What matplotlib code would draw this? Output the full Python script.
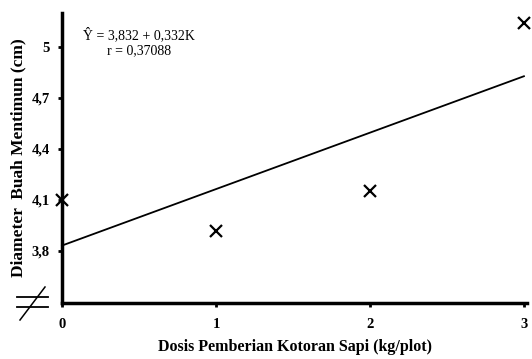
import matplotlib
matplotlib.use("Agg")
import matplotlib.pyplot as plt
from matplotlib.lines import Line2D
import numpy as np

# data
dosis = [0, 1, 2, 3]
diameter = [4.10, 3.92, 4.15, 5.14]
a, b = 3.832, 0.332
yticks = [3.8, 4.1, 4.4, 4.7, 5.0]
ytick_labels = ["3,8", "4,1", "4,4", "4,7", "5"]
xticks = [0, 1, 2, 3]

plt.rcParams['font.family'] = ['Liberation Serif', 'DejaVu Serif']

fig = plt.figure(figsize=(5.32, 3.59), dpi=100)
ax = fig.add_axes([62 / 532, 1 - 303 / 359, 465 / 532, 290 / 359])

xs = np.array([0, 3])
ax.plot(xs, a + b * xs, color='black', lw=1.3, clip_on=False)
ax.plot(dosis, diameter, 'x', color='black', ms=9, mew=1.6, clip_on=False)

ax.set_xlim(0, 3.02)
ax.set_ylim(3.494, 5.2)
ax.set_xticks(xticks)
ax.set_xticklabels([str(x) for x in xticks], fontweight='bold', fontsize=10.5)
ax.set_yticks(yticks)
ax.set_yticklabels(ytick_labels, fontweight='bold', fontsize=10.5)
ax.tick_params(axis='x', direction='out', length=3, width=2, pad=8)
ax.tick_params(axis='y', direction='out', length=3, width=2, pad=6)

for s in ['top', 'right']:
    ax.spines[s].set_visible(False)
for s in ['left', 'bottom']:
    ax.spines[s].set_linewidth(2.5)

ax.set_xlabel("Dosis Pemberian Kotoran Sapi (kg/plot)", fontweight='bold', fontsize=11.5)
ax.set_ylabel("Diameter  Buah Mentimun (cm)", fontweight='bold', fontsize=12.5)
ax.xaxis.set_label_coords(0.5, -0.125)
ax.yaxis.set_label_coords(-0.077, 0.5)

ax.text(0.165, 0.95, "Ŷ = 3,832 + 0,332K\nr = 0,37088", transform=ax.transAxes,
        ha='center', va='top', fontsize=10, linespacing=1.2)

# axis break mark
def fx(px):
    return px / 532
def fy(py):
    return 1 - py / 359
fig.add_artist(Line2D([fx(17), fx(48)], [fy(297), fy(297)], color='black', lw=1.3))
fig.add_artist(Line2D([fx(17), fx(48)], [fy(307), fy(307)], color='black', lw=1.3))
fig.add_artist(Line2D([fx(20), fx(45)], [fy(320), fy(287)], color='black', lw=1.1))

fig.savefig("out.png", dpi=100)
